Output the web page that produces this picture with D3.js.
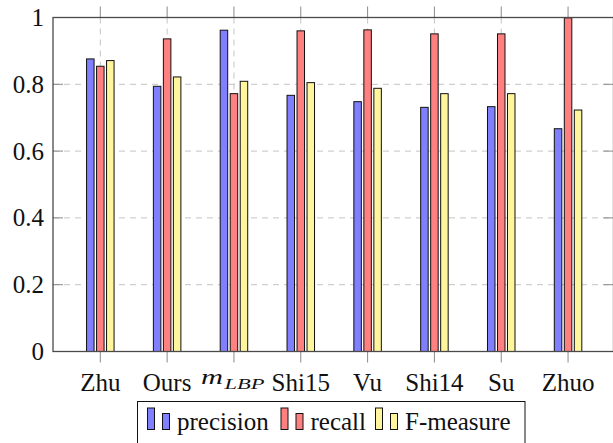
<!DOCTYPE html>
<html>
<head>
<meta charset="utf-8">
<script src="https://cdn.jsdelivr.net/npm/d3@7"></script>
<style>
  body { margin: 0; background: #fff; }
  svg { display: block; }
</style>
</head>
<body>
<script>
// values
var methods   = ["Zhu", "Ours", "mLBP", "Shi15", "Vu", "Shi14", "Su", "Zhuo"];
var precision = [0.876, 0.794, 0.962, 0.767, 0.748, 0.731, 0.733, 0.667];
var recall    = [0.854, 0.936, 0.772, 0.960, 0.963, 0.951, 0.951, 0.999];
var fmeasure  = [0.871, 0.822, 0.809, 0.805, 0.788, 0.772, 0.772, 0.723];
var yTicks    = [0, 0.2, 0.4, 0.6, 0.8, 1];

var series = [
  {name: "precision", values: precision, fill: "#8080ff", off: -10},
  {name: "recall",    values: recall,    fill: "#ff8080", off: 0},
  {name: "F-measure", values: fmeasure,  fill: "#fff59d", off: 10}
];

var FONT = "'Liberation Serif', 'Times New Roman', Times, serif";
var W = 613, H = 443;
var pLeft = 53, pRight = 613.5, pTop = 17.5, pBottom = 351.5;

var svg = d3.select("body").append("svg")
    .attr("width", W).attr("height", H)
    .attr("font-family", FONT);

var x = d3.scaleLinear().domain([-0.708, 7.68]).range([pLeft, pRight]);
var y = d3.scaleLinear().domain([0, 1]).range([pBottom, pTop]);

// grid
var grid = svg.append("g");
grid.selectAll(".hg")
    .data(yTicks.filter(function(d) { return d > 0 && d < 1; }))
  .enter().append("line")
    .attr("x1", pLeft).attr("x2", pRight)
    .attr("y1", function(d) { return y(d); })
    .attr("y2", function(d) { return y(d); })
    .attr("stroke", "#c4c4c4").attr("stroke-width", 1)
    .attr("stroke-dasharray", "6,5");
grid.selectAll(".vg")
    .data(methods)
  .enter().append("line")
    .attr("x1", function(d, i) { return x(i); })
    .attr("x2", function(d, i) { return x(i); })
    .attr("y1", pTop).attr("y2", pBottom)
    .attr("stroke", "#c4c4c4").attr("stroke-width", 1)
    .attr("stroke-dasharray", "6,5");

// bars
series.forEach(function(s) {
  svg.append("g").selectAll("rect")
      .data(s.values)
    .enter().append("rect")
      .attr("x", function(d, i) { return x(i) + s.off - 3.75; })
      .attr("width", 7.5)
      .attr("y", function(d) { return y(d); })
      .attr("height", function(d) { return y(0) - y(d); })
      .attr("fill", s.fill)
      .attr("stroke", "#111").attr("stroke-width", 1);
});

// ticks
var tk = svg.append("g").attr("stroke", "#8a8a8a").attr("stroke-width", 1);
methods.forEach(function(m, i) {
  tk.append("line").attr("x1", x(i)).attr("x2", x(i)).attr("y1", pBottom).attr("y2", pBottom + 11);
  tk.append("line").attr("x1", x(i)).attr("x2", x(i)).attr("y1", pTop).attr("y2", pTop - 11);
});
yTicks.forEach(function(t) {
  tk.append("line").attr("x1", pLeft).attr("x2", pLeft + 10).attr("y1", y(t)).attr("y2", y(t));
  tk.append("line").attr("x1", pRight - 10).attr("x2", pRight).attr("y1", y(t)).attr("y2", y(t));
});

// frame
svg.append("rect")
    .attr("x", pLeft).attr("y", pTop)
    .attr("width", pRight - pLeft).attr("height", pBottom - pTop)
    .attr("fill", "none").attr("stroke", "#4a4a4a").attr("stroke-width", 1.3);

// y labels
svg.append("g").selectAll("text")
    .data(yTicks)
  .enter().append("text")
    .attr("x", pLeft - 9)
    .attr("y", function(d) { return y(d); })
    .attr("dy", "0.34em")
    .attr("text-anchor", "end")
    .attr("font-size", 25)
    .attr("fill", "#111")
    .text(function(d) { return d === 0 || d === 1 ? d : d.toFixed(1); });

// x labels
var xl = svg.append("g").attr("fill", "#111");
methods.forEach(function(m, i) {
  if (m === "mLBP") {
    var t = xl.append("text").attr("x", x(i) - 33).attr("y", 383.5)
        .attr("font-style", "italic");
    t.append("tspan").attr("font-size", 21)
        .attr("textLength", 22).attr("lengthAdjust", "spacingAndGlyphs").text("m");
    t.append("tspan").attr("font-size", 15).attr("dy", 5).attr("dx", 1.5)
        .attr("textLength", 40).attr("lengthAdjust", "spacingAndGlyphs").text("LBP");
  } else {
    xl.append("text").attr("x", x(i)).attr("y", 390.7)
        .attr("text-anchor", "middle").attr("font-size", 25).text(m);
  }
});

// legend
var lg = svg.append("g");
lg.append("rect")
    .attr("x", 137.5).attr("y", 401.5)
    .attr("width", 387.5).attr("height", 50)
    .attr("fill", "#fff").attr("stroke", "#111").attr("stroke-width", 1);
var legX = [147, 280.5, 375];
series.forEach(function(s, k) {
  var g = lg.append("g").attr("transform", "translate(" + legX[k] + ",0)");
  g.append("rect").attr("x", 0.5).attr("y", 408).attr("width", 7).attr("height", 21.5)
      .attr("fill", s.fill).attr("stroke", "#111").attr("stroke-width", 1);
  g.append("rect").attr("x", 15.5).attr("y", 413.5).attr("width", 7).attr("height", 16)
      .attr("fill", s.fill).attr("stroke", "#111").attr("stroke-width", 1);
  g.append("text").attr("x", 30).attr("y", 429.5).attr("fill", "#111")
      .attr("font-size", 25).text(s.name);
});
</script>
</body>
</html>
